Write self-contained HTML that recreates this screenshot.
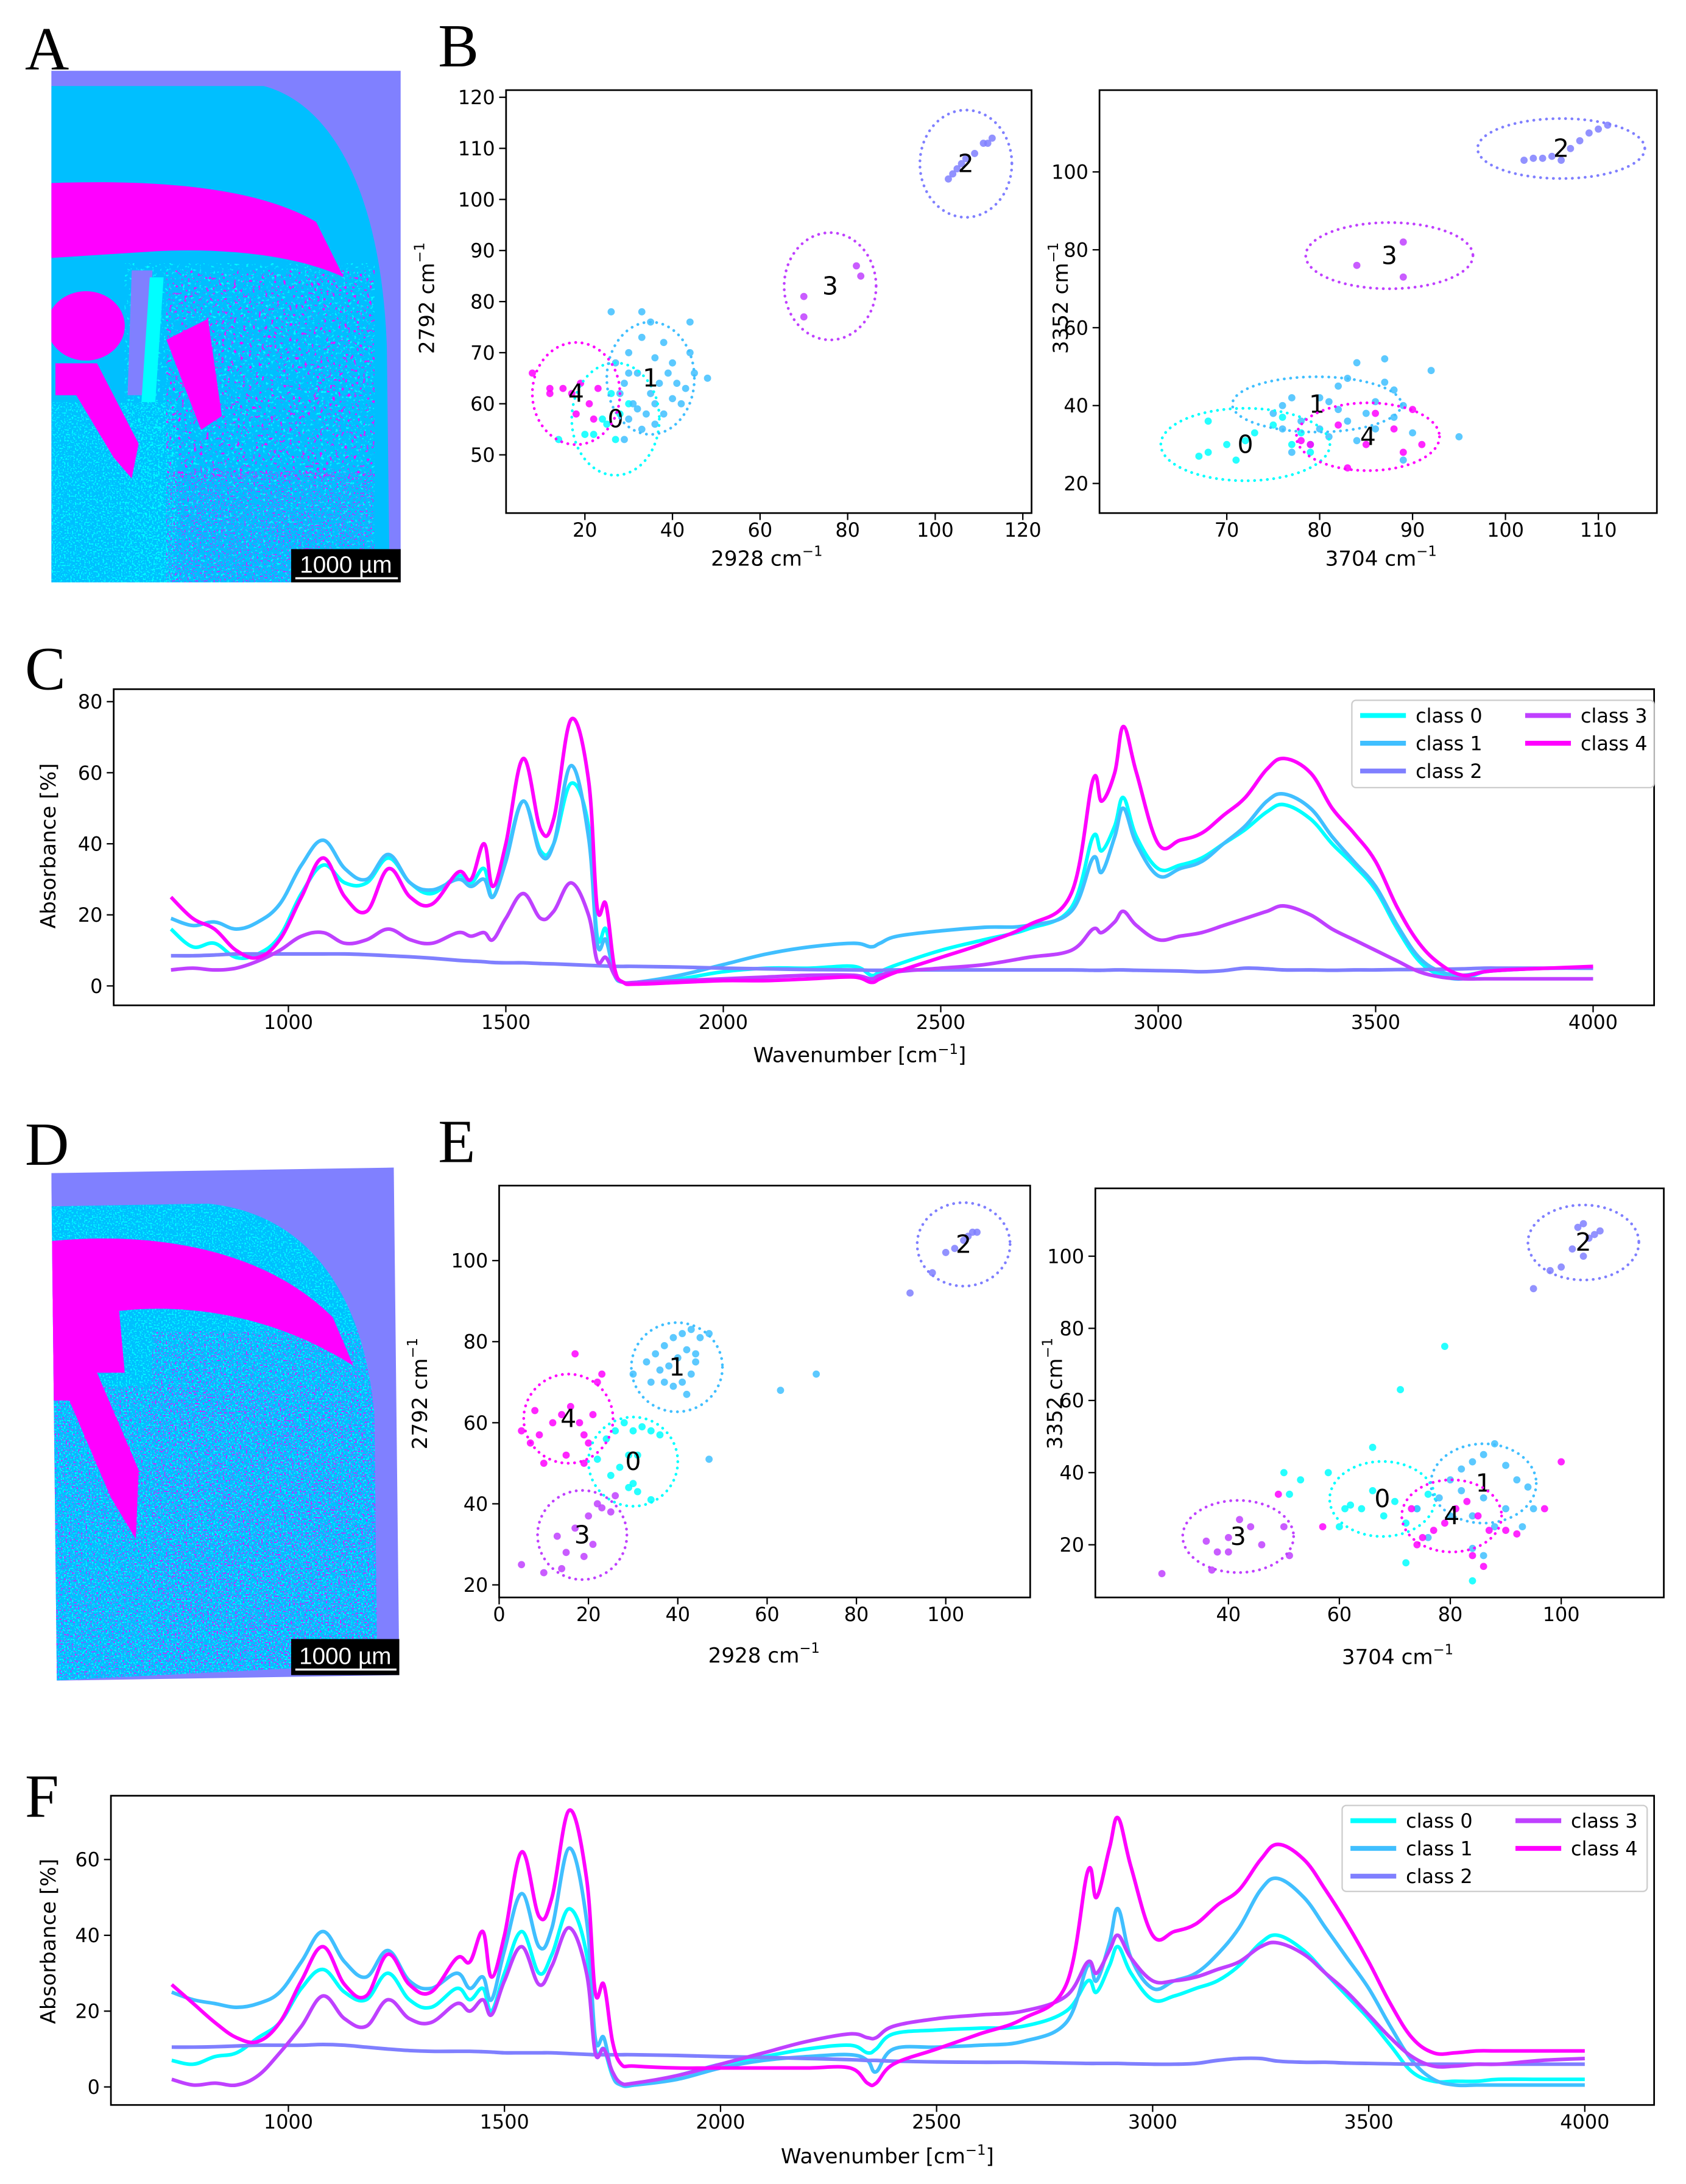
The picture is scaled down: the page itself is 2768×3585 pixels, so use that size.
<!DOCTYPE html>
<html><head><meta charset="utf-8"><style>
html,body{margin:0;padding:0;background:#fff}
svg{display:block}
text{font-family:"DejaVu Sans","Liberation Sans",sans-serif;fill:#000}
.serif{font-family:"Liberation Serif","DejaVu Serif",serif}
</style></head><body>
<svg id="fig" xmlns="http://www.w3.org/2000/svg" width="2768" height="3585" viewBox="0 0 1216 1575" preserveAspectRatio="none">
<defs>
<filter id="spkM" x="0" y="0" width="1" height="1"><feTurbulence type="fractalNoise" baseFrequency="0.45" numOctaves="2" seed="3"/><feColorMatrix type="matrix" values="0 0 0 0 1 0 0 0 0 0 0 0 0 0 1 9 0 0 0 -5.6"/></filter>
<filter id="spkC" x="0" y="0" width="1" height="1"><feTurbulence type="fractalNoise" baseFrequency="0.5" numOctaves="2" seed="9"/><feColorMatrix type="matrix" values="0 0 0 0 0 0 0 0 0 1 0 0 0 0 1 0 9 0 0 -5.6"/></filter>
<filter id="spkC2" x="0" y="0" width="1" height="1"><feTurbulence type="fractalNoise" baseFrequency="0.9" numOctaves="1" seed="5"/><feColorMatrix type="matrix" values="0 0 0 0 0 0 0 0 0 1 0 0 0 0 1 0 8 0 0 -4.3"/></filter>
<filter id="spkM2" x="0" y="0" width="1" height="1"><feTurbulence type="fractalNoise" baseFrequency="0.9" numOctaves="1" seed="11"/><feColorMatrix type="matrix" values="0 0 0 0 1 0 0 0 0 0 0 0 0 0 1 8 0 0 0 -4.7"/></filter>
<clipPath id="clipA"><rect x="37" y="51" width="252" height="369"/></clipPath>
<clipPath id="skyA"><path d="M37,62 L190,62 C240,75 275,140 279,250 L281,420 L37,420 Z"/></clipPath>
<clipPath id="clipD"><polygon points="37,846 284,842 288,1208 41,1212"/></clipPath>
<clipPath id="skyD"><path d="M37,870 L150,868 C220,875 262,930 270,1020 L272,1200 L37,1212 Z"/></clipPath>
</defs>

<text class="serif" x="18" y="50" font-size="44">A</text>
<text class="serif" x="316" y="48" font-size="44">B</text>
<text class="serif" x="18" y="497" font-size="44">C</text>
<text class="serif" x="18" y="840" font-size="44">D</text>
<text class="serif" x="316" y="838" font-size="44">E</text>
<text class="serif" x="18" y="1310" font-size="44">F</text>

<g clip-path="url(#clipA)">
<rect x="37" y="51" width="252" height="369" fill="#8080ff"/>
<g clip-path="url(#skyA)">
<rect x="37" y="51" width="252" height="369" fill="#00bfff"/>
<rect x="90" y="190" width="180" height="230" filter="url(#spkC)"/>
<rect x="37" y="290" width="90" height="130" filter="url(#spkC2)"/>
<path d="M37,132 C100,130 180,132 228,160 L248,200 C210,182 150,178 100,182 L37,186 Z" fill="#ff00ff"/>
<ellipse cx="62" cy="235" rx="28" ry="25" fill="#ff00ff"/>
<path d="M40,262 L70,262 L100,320 L95,345 L82,330 L55,285 L40,285 Z" fill="#ff00ff"/>
<path d="M120,245 L150,230 L160,300 L145,310 Z" fill="#ff00ff"/>
<rect x="120" y="195" width="150" height="150" filter="url(#spkM)"/>
<rect x="120" y="340" width="150" height="80" filter="url(#spkM2)"/>
<path d="M95,195 L110,195 L104,285 L92,285 Z" fill="#8080ff"/>
<path d="M108,200 L118,200 L112,290 L102,290 Z" fill="#00ffff"/>
</g>
</g>
<g>
<rect x="210" y="396" width="79" height="24" fill="#000"/>
<text x="249.5" y="413" font-size="17" text-anchor="middle" style="fill:#fff;font-family:'Liberation Sans',sans-serif">1000 µm</text>
<line x1="213" y1="417" x2="287" y2="417" stroke="#fff" stroke-width="1.5"/>
</g>

<g clip-path="url(#clipD)">
<rect x="37" y="840" width="252" height="375" fill="#8080ff"/>
<g clip-path="url(#skyD)">
<rect x="37" y="840" width="252" height="375" fill="#00bfff"/>
<rect x="37" y="840" width="252" height="375" filter="url(#spkC2)"/>
<path d="M37,895 C110,888 190,900 240,950 L255,985 C200,950 140,940 90,945 L37,950 Z" fill="#ff00ff"/>
<path d="M37,930 L85,935 L90,990 L70,990 L100,1060 L98,1110 L80,1080 L50,1010 L37,1010 Z" fill="#ff00ff"/>
<rect x="110" y="960" width="170" height="240" filter="url(#spkM2)"/>
<rect x="37" y="1000" width="240" height="210" filter="url(#spkM2)"/>
</g>
</g>
<g>
<rect x="210" y="1182" width="78" height="26" fill="#000"/>
<text x="249" y="1200" font-size="17" text-anchor="middle" style="fill:#fff;font-family:'Liberation Sans',sans-serif">1000 µm</text>
<line x1="213" y1="1204" x2="286" y2="1204" stroke="#fff" stroke-width="1.5"/>
</g>

<g id="plots"></g>
</svg>
<script>
const wavenumbers = [730,780,830,880,930,980,1030,1080,1130,1180,1230,1280,1330,1390,1420,1450,1470,1500,1540,1580,1610,1650,1690,1710,1730,1750,1770,1800,1900,2000,2100,2200,2300,2340,2360,2400,2500,2600,2700,2800,2850,2870,2900,2920,2950,3000,3050,3100,3150,3200,3250,3290,3350,3400,3450,3500,3550,3600,3650,3700,3750,3800,3900,4000];
const cClass0 = [16,11,12,8,9,14,26,34,29,29, 36,29,26,31,29,33,25,36,52,38, 40,57,45,14,16,4,1,1,2,4, 5,5,5.5,3,4,6,10,13,16,22, 42,38,45,53,42,33,34,36,40,44, 49,51,47,40,34,27,16,7,3,2, 4,4.5,5,5];
const cClass1 = [19,17,18,16,18,23,34,41,33,30, 37,29,27,30,28,30,25,35,52,37, 40,62,42,12,13,3,1,1,3,6, 9,11,12,11,12,14,15.5,16.5,17,21, 36,32,42,50,40,31,33,35,40,45, 52,54,50,42,35,28,17,8,4,3, 4,4.5,5,5];
const cClass2 = [8.5,8.5,8.7,9,9,9,9,9,9,8.8, 8.5,8.2,7.8,7.2,7,6.8,6.6,6.5,6.5,6.3, 6.2,6,5.8,5.7,5.6,5.5,5.5,5.5,5.3,5, 4.8,4.6,4.5,4.4,4.4,4.5,4.5,4.5,4.5,4.5, 4.4,4.4,4.5,4.5,4.4,4.3,4.2,4,4.3,5, 4.8,4.5,4.5,4.4,4.5,4.5,4.6,4.6,4.7,4.8, 5,5,5,5];
const cClass3 = [4.5,5,4.5,5,7,10,14,15,12,13, 16,13,12,15,14,15,13,19,26,19, 21,29,20,7,8,3,1,1,1.5,2, 2.5,3,3,2,3,4,5,6,8,10, 16,15,18,21,17,13,14,15,17,19, 21,22.5,20,16,13,10,7,4,2.5,2, 2,2,2,2];
const cClass4 = [25,19,16,10,8,13,25,36,25,21, 33,25,23,32,30,40,28,40,64,44, 47,75,58,22,23,5,1,0.5,1,1.5, 1.5,2,2.5,1,2,4,8,12,17,26, 58,52,60,73,60,40,41,43,48,53, 61,64,60,50,43,35,22,12,6,3, 4,4.5,5,5.5];
const fClass0 = [7,6,8,9,13,17,26,31,25,23, 30,23,21,26,23,26,20,30,41,30, 35,47,35,10,10,3,0.5,0.5,3,6, 8,10,11,9,10,14,15,15.5,16,20, 28,25,32,37,30,23,24,26,28,32, 38,40,36,30,24,18,11,4,1.5,1.5, 1.5,2,2,2];
const fClass1 = [25,23,22,21,22,25,33,41,33,29, 36,28,26,30,26,29,23,36,51,37, 42,63,44,13,13,3,0.5,0.5,2,5, 7,8,8.5,7,4,10,10.5,11,12,17, 32,28,38,47,34,26,28,30,35,42, 52,55,50,42,34,26,16,7,2,0.5, 0.5,0.5,0.5,0.5];
const fClass2 = [10.5,10.5,10.6,10.8,11,11,11,11.2,11,10.5, 10,9.6,9.4,9.4,9.4,9.3,9.2,9,9,9, 9,8.8,8.6,8.5,8.5,8.5,8.5,8.5,8.3,8, 7.8,7.5,7.2,7,7,6.8,6.6,6.5,6.5,6.3, 6.2,6.2,6.2,6.2,6.1,6,6,6.2,7,7.5, 7.5,6.8,6.5,6.5,6.3,6.2,6.1,6,6,6, 6,6,6,6];
const fClass3 = [2,0.5,1,0.5,3,9,16,24,18,16, 23,18,17,22,20,23,19,28,37,27, 32,42,30,9,10,4,1,1,3,6, 9,12,14,13,13,16,18,19,20,24, 33,30,36,40,34,28,28,29,31,33, 37,38,35,30,25,19,13,8,5.5,5.5, 6,6,7,7.5];
const fClass4 = [27,22,17,13,12,17,28,37,27,24, 35,27,25,34,33,41,29,40,62,45, 50,73,55,25,27,12,6,5.5,5,5, 5,5,5,1,1,6,10,14,18,27, 57,50,63,71,58,40,41,43,48,52, 60,64,60,52,43,33,22,13,9,9, 9.5,9.5,9.5,9.5];
const spectraXTicks = [1000,1500,2000,2500,3000,3500,4000];
const cYTicks = [0,20,40,60,80];
const fYTicks = [0,20,40,60];
const classNames = ["class 0","class 1","class 2","class 3","class 4"];
const classColors = ["#00ffff","#40bfff","#7f7fff","#bf40ff","#ff00ff"];

const bLeftClass0 = [[20,54],[22,54],[25,56],[27,53],[28,58],[30,60],[26,62],[24,57],[14,53]];
const bLeftClass1 = [[26,78],[33,78],[35,76],[44,76],[38,72],[33,73],[30,70],[36,69],[40,68],[44,70],[45,66],[48,65],[41,64],[40,61],[38,58],[36,56],[33,55],[30,57],[32,59],[35,62],[37,64],[32,66],[29,64],[28,62],[30,66],[42,60],[43,63],[29,53],[31,60],[39,66],[27,68],[36,60],[34,58]];
const bLeftClass2 = [[103,104],[104,105],[105,106],[106,107],[107,108],[109,109],[111,111],[113,112],[112,111]];
const bLeftClass3 = [[70,77],[70,81],[82,87],[83,85]];
const bLeftClass4 = [[8,66],[12,63],[15,63],[17,62],[19,64],[21,60],[18,58],[22,57],[23,63],[12,62]];
const bLeftEllCx = [27,35,107,76,18];
const bLeftEllCy = [57,65,107,83,62];
const bLeftEllRx = [10,10,10.5,10.5,10];
const bLeftEllRy = [11,11,10.5,10.5,10];
const bLeftXTicks = [20,40,60,80,100,120];
const bLeftYTicks = [50,60,70,80,90,100,110,120];

const bRightClass0 = [[67,27],[68,28],[70,30],[72,31],[73,33],[75,35],[68,36],[71,26],[77,30],[79,28],[76,37],[78,33]];
const bRightClass1 = [[75,38],[76,40],[77,42],[78,36],[80,34],[81,41],[82,45],[84,51],[87,52],[88,44],[86,41],[85,38],[83,36],[81,32],[79,30],[77,28],[84,31],[86,34],[88,37],[89,40],[90,33],[92,49],[95,32],[89,26],[83,47],[80,42],[76,34],[82,39],[87,46]];
const bRightClass2 = [[102,103],[103,103.5],[104,103.5],[105,104],[106,103],[107,106],[108,108],[109,110],[110,111],[111,112]];
const bRightClass3 = [[84,76],[89,82],[89,73]];
const bRightClass4 = [[79,30],[82,35],[85,30],[88,34],[89,28],[90,39],[91,30],[83,24],[78,31],[86,38]];
const bRightEllCx = [72,79.7,106,87.5,85.2];
const bRightEllCy = [30,40.3,106,78.5,32];
const bRightEllRx = [9.1,9.1,9,9,7.7];
const bRightEllRy = [9.3,7.1,7.7,8.5,8.7];
const bRightXTicks = [70,80,90,100,110];
const bRightYTicks = [20,40,60,80,100];

const eLeftClass0 = [[24,56],[26,58],[28,60],[30,58],[32,59],[34,58],[36,57],[29,52],[31,52],[27,49],[30,45],[29,44],[31,43],[34,41],[22,51],[25,47]];
const eLeftClass1 = [[30,72],[33,75],[35,77],[37,79],[39,81],[41,82],[43,83],[45,81],[47,82],[42,78],[40,76],[38,74],[37,70],[39,69],[41,70],[43,72],[44,75],[42,67],[36,73],[34,70],[63,68],[71,72],[47,51],[44,77]];
const eLeftClass2 = [[92,92],[97,97],[100,102],[102,103],[104,105],[105,106],[106,107],[107,107]];
const eLeftClass3 = [[5,25],[10,23],[13,32],[15,28],[17,34],[19,27],[21,30],[22,40],[23,39],[25,38],[26,42],[20,37],[14,24]];
const eLeftClass4 = [[5,58],[7,55],[9,57],[10,50],[12,60],[14,62],[16,64],[17,77],[18,60],[19,57],[21,62],[22,70],[23,72],[20,55],[8,63],[15,52],[19,50]];
const eLeftEllCx = [30,39.8,104,18.6,15.5];
const eLeftEllCy = [50.4,73.7,104,32.3,61];
const eLeftEllRx = [10,10.2,10.4,10,10];
const eLeftEllRy = [11,11,10.3,11,11];
const eLeftXTicks = [0,20,40,60,80,100];
const eLeftYTicks = [20,40,60,80,100];

const eRightClass0 = [[61,30],[62,31],[64,30],[66,35],[68,28],[70,32],[72,26],[74,30],[76,34],[66,47],[71,63],[79,75],[60,25],[72,15],[84,10],[50,40],[53,38],[51,34],[58,40]];
const eRightClass1 = [[78,33],[80,38],[82,41],[84,43],[86,45],[88,48],[90,42],[92,38],[94,36],[95,30],[86,33],[84,28],[80,28],[76,22],[88,25],[82,35],[90,30],[93,25],[84,19],[86,17],[74,30]];
const eRightClass2 = [[95,91],[98,96],[100,97],[102,102],[103,108],[104,109],[105,105],[106,106],[107,107],[104,100]];
const eRightClass3 = [[28,12],[37,13],[38,18],[40,22],[42,27],[44,25],[46,20],[50,25],[51,17],[40,18],[36,21]];
const eRightClass4 = [[74,20],[75,22],[77,24],[79,26],[81,30],[83,32],[85,28],[87,24],[90,24],[92,23],[97,30],[100,43],[86,14],[84,17],[73,30],[49,34],[57,25]];
const eRightEllCx = [67.75,86,104,41.75,80.25];
const eRightEllCy = [32.7,37,103.8,22.3,28];
const eRightEllRx = [9.5,9.5,10,10,9];
const eRightEllRy = [10.4,11,10.4,10,10];
const eRightXTicks = [40,60,80,100];
const eRightYTicks = [20,40,60,80,100];

const NS = "http://www.w3.org/2000/svg";
const root = document.getElementById('plots');
function mk(tag, attrs, parent){ const e=document.createElementNS(NS,tag); for(const k in attrs) e.setAttribute(k,attrs[k]); (parent||root).appendChild(e); return e; }
function lin(d0,d1,r0,r1){ return v => r0 + (v-d0)*(r1-r0)/(d1-d0); }

function axesFrame(g, L,T,R,B){
  const f = mk('rect',{x:L,y:T,width:R-L,height:B-T,fill:'none',stroke:'#000','stroke-width':1.2},g);
  
  
}
function xTicksDraw(g, ticks, sx, B, fs){
  ticks.forEach(t=>{
    const x=sx(t);
    const tk=mk('line',{x1:x,y1:B,x2:x,y2:B+5,stroke:'#000','stroke-width':1},g);
    
    
    const tx=mk('text',{x:x,y:B+17,'font-size':fs,'text-anchor':'middle'},g);
    tx.textContent=t;
    
    
  });
}
function yTicksDraw(g, ticks, sy, L, fs){
  ticks.forEach(t=>{
    const y=sy(t);
    const tk=mk('line',{x1:L-5,y1:y,x2:L,y2:y,stroke:'#000','stroke-width':1},g);
    
    
    const tx=mk('text',{x:L-8,y:y+5,'font-size':fs,'text-anchor':'end'},g);
    tx.textContent=t;
    
    
  });
}
function axisLabels(g, xl, xx, xy, yl, yx, yy){
  const a=mk('text',{x:xx,y:xy,'font-size':15,'text-anchor':'middle'},g);
  a.innerHTML=xl;
  
  
  const b=mk('text',{x:yx,y:yy,'font-size':15,'text-anchor':'middle',transform:`rotate(-90 ${yx} ${yy})`},g);
  b.innerHTML=yl;
  
  
}

function scatter(name, box, xd, yd, classes, ecx, ecy, erx, ery, xt, yt, xl, yl, lab){
  const g=mk('g',{});
  
  
  const [L,T,R,B]=box;
  const sx=lin(xd[0],xd[1],L,R), sy=lin(yd[0],yd[1],B,T);
  axesFrame(g,L,T,R,B);
  classes.forEach((pts,ci)=>{
    pts.forEach(p=>{
      const c=mk('circle',{cx:sx(p[0]),cy:sy(p[1]),r:2.6,fill:classColors[ci],'fill-opacity':0.85},g);
      
      
    });
  });
  for(let ci=0;ci<5;ci++){
    const cx=sx(ecx[ci]), cy=sy(ecy[ci]);
    const rx=Math.abs(sx(ecx[ci]+erx[ci])-cx), ry=Math.abs(sy(ecy[ci]+ery[ci])-cy);
    const e=mk('ellipse',{cx:cx,cy:cy,rx:rx,ry:ry,fill:'none',stroke:classColors[ci],'stroke-width':2,'stroke-dasharray':'0.1 4.5','stroke-linecap':'round'},g);
    
    
    const t=mk('text',{x:cx,y:cy+6,'font-size':18,'text-anchor':'middle'},g);
    t.textContent=ci;
    
    
  }
  xTicksDraw(g,xt,sx,B,14);
  yTicksDraw(g,yt,sy,L,14);
  axisLabels(g,xl,lab[0],lab[1],yl,lab[2],lab[3]);
}

function smoothPath(pts){
  let d=`M${pts[0][0].toFixed(2)},${pts[0][1].toFixed(2)}`;
  for(let i=0;i<pts.length-1;i++){
    const p0=pts[Math.max(0,i-1)],p1=pts[i],p2=pts[i+1],p3=pts[Math.min(pts.length-1,i+2)];
    const t=0.18;
    const c1=[p1[0]+(p2[0]-p0[0])*t,p1[1]+(p2[1]-p0[1])*t];
    const c2=[p2[0]-(p3[0]-p1[0])*t,p2[1]-(p3[1]-p1[1])*t];
    d+=` C${c1[0].toFixed(2)},${c1[1].toFixed(2)} ${c2[0].toFixed(2)},${c2[1].toFixed(2)} ${p2[0].toFixed(2)},${p2[1].toFixed(2)}`;
  }
  return d;
}

function spectra(name, box, x1000, x4000, y0px, yTopVal, yTopPx, series, yt, legendBox, lab){
  const g=mk('g',{});
  
  
  const [L,T,R,B]=box;
  const sx=lin(1000,4000,x1000,x4000), sy=lin(0,yTopVal,y0px,yTopPx);
  axesFrame(g,L,T,R,B);
  series.forEach((vals,ci)=>{
    const pts=wavenumbers.map((w,i)=>[sx(w),sy(vals[i])]);
    const p=mk('path',{d:smoothPath(pts),fill:'none',stroke:classColors[ci],'stroke-width':2.6,'stroke-linejoin':'round'},g);
    
    
  });
  xTicksDraw(g,spectraXTicks,sx,B,14);
  yTicksDraw(g,yt,sy,L,14);
  axisLabels(g,'Wavenumber [cm<tspan dy="-6" font-size="10">−1</tspan><tspan dy="6">]</tspan>',lab[0],lab[1],'Absorbance [%]',lab[2],lab[3]);
  const [lx,ly,lw,lh]=legendBox;
  const lg=mk('g',{},g);
  
  
  mk('rect',{x:lx,y:ly,width:lw,height:lh,rx:3,fill:'#fff','fill-opacity':0.85,stroke:'#ccc','stroke-width':1},lg);
  classNames.forEach((n,ci)=>{
    const col=ci<3?0:1, row=ci<3?ci:ci-3;
    const x0=lx+6+col*119, y0=ly+11+row*20;
    const e=mk('g',{},lg);
    
    
    mk('line',{x1:x0,y1:y0,x2:x0+33,y2:y0,stroke:classColors[ci],'stroke-width':3.5},e);
    const t=mk('text',{x:x0+40,y:y0+5,'font-size':14},e);
    t.textContent=n;
  });
}

const cm1 = ' cm<tspan dy="-7" font-size="10">−1</tspan>';
scatter('scatter-b-left',[365,65,744,370],[2,122],[38.6,121.4],[bLeftClass0,bLeftClass1,bLeftClass2,bLeftClass3,bLeftClass4],bLeftEllCx,bLeftEllCy,bLeftEllRx,bLeftEllRy,bLeftXTicks,bLeftYTicks,'2928'+cm1,'2792'+cm1,[553,408,313,215]);
scatter('scatter-b-right',[793,65,1195,370],[56.3,116.3],[12.4,121],[bRightClass0,bRightClass1,bRightClass2,bRightClass3,bRightClass4],bRightEllCx,bRightEllCy,bRightEllRx,bRightEllRy,bRightXTicks,bRightYTicks,'3704'+cm1,'3352'+cm1,[996,408,770,215]);
scatter('scatter-e-left',[360,855,743,1152],[0,118.9],[16.9,118.5],[eLeftClass0,eLeftClass1,eLeftClass2,eLeftClass3,eLeftClass4],eLeftEllCx,eLeftEllCy,eLeftEllRx,eLeftEllRy,eLeftXTicks,eLeftYTicks,'2928'+cm1,'2792'+cm1,[551,1199,308,1005]);
scatter('scatter-e-right',[790,857,1200,1152],[16,118.5],[5.4,118.8],[eRightClass0,eRightClass1,eRightClass2,eRightClass3,eRightClass4],eRightEllCx,eRightEllCy,eRightEllRx,eRightEllRy,eRightXTicks,eRightYTicks,'3704'+cm1,'3352'+cm1,[1008,1200,766,1005]);
spectra('spectra-c',[82,497,1193,725],208,1149,711,80,506,[cClass0,cClass1,cClass2,cClass3,cClass4],cYTicks,[975,505,218,63],[620,766,40,610]);
spectra('spectra-f',[80,1295,1193,1518],208,1143,1505,60,1341,[fClass0,fClass1,fClass2,fClass3,fClass4],fYTicks,[968,1302,220,62],[640,1560,40,1400]);
</script>
</body></html>
